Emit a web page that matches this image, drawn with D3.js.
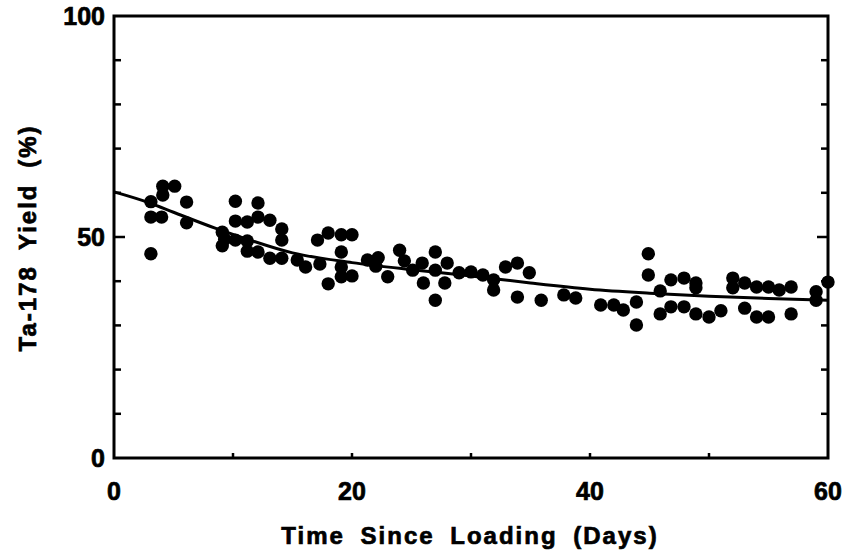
<!DOCTYPE html>
<html>
<head>
<meta charset="utf-8">
<script src="https://cdn.jsdelivr.net/npm/d3@7/dist/d3.min.js"></script>
<style>
  html, body { margin: 0; padding: 0; background: #fff; }
  svg text { font-family: "Liberation Sans", Arial, sans-serif; font-weight: 700; fill: #000; stroke: #000; stroke-width: 0.7; }
</style>
</head>
<body>
<svg id="chart" width="843" height="550"></svg>
<script>
  // measured points: day, yield (%)
  var days = [3.1, 3.1, 3.1, 4.1, 4.1, 4.0, 5.1, 6.1, 6.1,
    9.1, 9.1, 9.3, 10.2, 10.2, 10.2, 11.2, 11.2, 11.2, 12.1, 12.1, 12.1, 13.1, 13.1, 14.1, 14.1, 14.1,
    15.4, 16.1, 17.1, 17.3, 18.0, 18.0, 19.1, 19.1, 19.1, 19.1, 20.0, 20.0,
    21.3, 22.2, 22.0, 23.0, 24.0, 24.4, 25.1, 25.9, 26.0, 27.0, 27.0, 27.0, 28.0, 27.8,
    29.0, 30.0, 31.0, 31.9, 31.9, 32.9, 33.9, 33.9, 34.9, 35.9, 37.8, 38.8,
    40.9, 42.0, 42.8, 43.9, 43.9, 44.9, 44.9, 45.9, 45.9, 46.8, 46.8, 47.9, 47.9,
    48.9, 48.9, 48.9, 50.0, 51.0, 52.0, 52.0, 53.0, 53.0, 54.0, 54.0, 55.0, 55.0,
    55.9, 56.9, 56.9, 59.0, 59.0, 60.0];
  var yields = [58.0, 54.5, 46.2, 61.5, 59.5, 54.5, 61.5, 57.9, 53.2,
    51.1, 48.0, 49.5, 58.1, 53.6, 49.3, 53.4, 49.1, 46.8, 57.7, 54.5, 46.6, 53.8, 45.2, 51.8, 49.3, 45.2,
    44.8, 43.2, 49.3, 43.9, 50.9, 39.4, 50.5, 46.6, 43.2, 41.0, 50.5, 41.2,
    44.8, 45.3, 43.4, 41.0, 47.0, 44.6, 42.5, 44.1, 39.6, 46.6, 42.5, 35.7, 44.1, 39.6,
    41.9, 42.1, 41.4, 40.3, 38.0, 43.2, 44.1, 36.4, 41.9, 35.7, 36.9, 36.2,
    34.6, 34.6, 33.5, 35.3, 30.1, 46.2, 41.4, 37.8, 32.6, 40.3, 34.2, 40.7, 34.2,
    39.6, 38.5, 32.6, 31.9, 33.3, 40.7, 38.5, 39.6, 33.9, 38.7, 31.9, 38.7, 31.9,
    38.0, 38.7, 32.6, 37.6, 35.7, 39.8];

  // fitted curve
  var fitDays = [0, 3, 5, 8.5, 10, 15, 20, 25, 30, 35, 40, 45, 50, 55, 60];
  var fitYields = [60.2, 57.7, 55.6, 52.0, 50.6, 46.4, 44.2, 42.6, 41.2, 39.6, 38.2, 37.3, 36.6, 36.1, 35.7];

  var xTickLabels = [0, 20, 40, 60];
  var xTicks = [10, 20, 30, 40, 50];
  var yTickLabels = [0, 50, 100];
  var yTicks = [10, 20, 30, 40, 50, 60, 70, 80, 90];

  (function () {
    var svg = d3.select("#chart");
    var pLeft = 114, pRight = 828, pTop = 16, pBottom = 458;

    var x = d3.scaleLinear().domain([0, 60]).range([pLeft, pRight]);
    var y = d3.scaleLinear().domain([0, 100]).range([pBottom, pTop]);

    var g = svg.append("g");

    // frame
    g.append("rect")
      .attr("x", pLeft).attr("y", pTop)
      .attr("width", pRight - pLeft).attr("height", pBottom - pTop)
      .attr("fill", "none").attr("stroke", "#000").attr("stroke-width", 3);

    // inward ticks on left, right and bottom
    yTicks.forEach(function (v) {
      var len = v === 50 ? 11 : 7;
      g.append("line").attr("x1", pLeft).attr("x2", pLeft + len)
        .attr("y1", y(v)).attr("y2", y(v)).attr("stroke", "#000").attr("stroke-width", 2.5);
      g.append("line").attr("x1", pRight).attr("x2", pRight - len)
        .attr("y1", y(v)).attr("y2", y(v)).attr("stroke", "#000").attr("stroke-width", 2.5);
    });
    xTicks.forEach(function (v) {
      g.append("line").attr("x1", x(v)).attr("x2", x(v))
        .attr("y1", pBottom).attr("y2", pBottom - 5).attr("stroke", "#000").attr("stroke-width", 2.5);
    });

    // tick labels
    g.selectAll(".ylab").data(yTickLabels).enter().append("text")
      .attr("class", "ylab")
      .attr("x", pLeft - 9)
      .attr("y", function (d) { return y(d); })
      .attr("dy", "0.36em")
      .attr("text-anchor", "end")
      .attr("font-size", 25)
      .text(function (d) { return d; });

    g.selectAll(".xlab").data(xTickLabels).enter().append("text")
      .attr("class", "xlab")
      .attr("x", function (d) { return x(d); })
      .attr("y", 500)
      .attr("text-anchor", "middle")
      .attr("font-size", 25)
      .text(function (d) { return d; });

    // axis titles
    svg.append("text")
      .attr("x", 470).attr("y", 544)
      .attr("text-anchor", "middle")
      .attr("font-size", 24)
      .attr("letter-spacing", 2)
      .attr("word-spacing", 7)
      .text("Time Since Loading (Days)");

    svg.append("text")
      .attr("transform", "translate(36,238) rotate(-90)")
      .attr("text-anchor", "middle")
      .attr("font-size", 24)
      .attr("letter-spacing", 2)
      .attr("word-spacing", 7)
      .text("Ta-178 Yield (%)");

    // points
    var pts = days.map(function (d, i) { return { t: d, v: yields[i] }; });
    g.selectAll(".pt").data(pts).enter().append("circle")
      .attr("class", "pt")
      .attr("cx", function (d) { return x(d.t); })
      .attr("cy", function (d) { return y(d.v); })
      .attr("r", 6.7)
      .attr("fill", "#000");

    // fit curve
    var fit = fitDays.map(function (d, i) { return [d, fitYields[i]]; });
    g.append("path")
      .datum(fit)
      .attr("fill", "none")
      .attr("stroke", "#000")
      .attr("stroke-width", 3)
      .attr("d", d3.line()
        .x(function (d) { return x(d[0]); })
        .y(function (d) { return y(d[1]); })
        .curve(d3.curveMonotoneX));
  })();
</script>
</body>
</html>
